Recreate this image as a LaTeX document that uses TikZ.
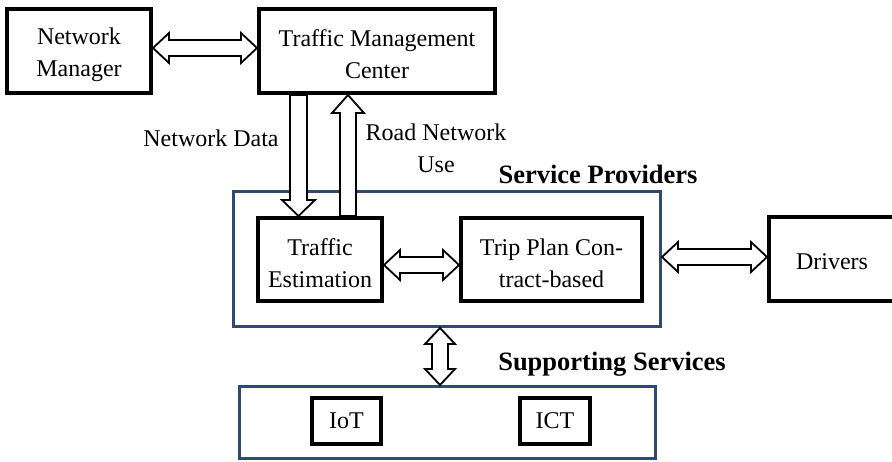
\documentclass[tikz,border=0pt]{standalone}
\usepackage{fontspec}
\setmainfont{Liberation Serif}
\usetikzlibrary{calc}
\definecolor{frameblue}{HTML}{2E4A6E}
\def\ahl{16pt}
\def\ahw{15pt}
\def\asw{8pt}
\newcommand{\HArrow}[2]{\draw[blockarrow] let \p1=(#1), \p2=(#2) in
  (\x1,\y1) -- (\x1+\ahl,\y1+\ahw) -- (\x1+\ahl,\y1+\asw) -- (\x2-\ahl,\y1+\asw) -- (\x2-\ahl,\y1+\ahw) -- (\x2,\y1)
  -- (\x2-\ahl,\y1-\ahw) -- (\x2-\ahl,\y1-\asw) -- (\x1+\ahl,\y1-\asw) -- (\x1+\ahl,\y1-\ahw) -- cycle;}
\newcommand{\VArrow}[2]{\draw[blockarrow] let \p1=(#1), \p2=(#2) in
  (\x1,\y1) -- (\x1+\ahw,\y1-\ahl) -- (\x1+\asw,\y1-\ahl) -- (\x1+\asw,\y2+\ahl) -- (\x1+\ahw,\y2+\ahl) -- (\x1,\y2)
  -- (\x1-\ahw,\y2+\ahl) -- (\x1-\asw,\y2+\ahl) -- (\x1-\asw,\y1-\ahl) -- (\x1-\ahw,\y1-\ahl) -- cycle;}
% single arrow, pointing down (start above, tip below)
\newcommand{\DownArrow}[2]{\draw[blockarrow] let \p1=(#1), \p2=(#2) in
  (\x1-8.5pt,\y1) -- (\x1-8.5pt,\y2+16pt) -- (\x1-16.5pt,\y2+16pt) -- (\x1,\y2) -- (\x1+16.5pt,\y2+16pt) -- (\x1+8.5pt,\y2+16pt) -- (\x1+8.5pt,\y1) -- cycle;}
% single arrow, pointing up
\newcommand{\UpArrow}[2]{\draw[blockarrow] let \p1=(#1), \p2=(#2) in
  (\x1-8pt,\y1) -- (\x1-8pt,\y2-18pt) -- (\x1-16pt,\y2-18pt) -- (\x1,\y2) -- (\x1+16pt,\y2-18pt) -- (\x1+8pt,\y2-18pt) -- (\x1+8pt,\y1) -- cycle;}
\tikzset{
  bbox/.style={draw=black, line width=4pt, fill=white, align=center, inner sep=0pt,
    font=\fontsize{24}{32}\selectfont},
  bluebox/.style={draw=frameblue, line width=3pt, inner sep=0pt},
  blockarrow/.style={draw=black, line width=1.8pt, fill=white, line join=miter},
  lbl/.style={align=center, inner sep=0pt, font=\fontsize{24}{32}\selectfont},
  blbl/.style={inner sep=0pt, font=\fontsize{26.5}{32}\selectfont\bfseries},
}
\begin{document}
\begin{tikzpicture}[x=1pt,y=-1pt]
\useasboundingbox (0,0) rectangle (892,462);
% containers
\node[bluebox, minimum width=427, minimum height=135] (sp) at (447,259) {};
\node[bluebox, minimum width=416, minimum height=72] (ss) at (447.5,422.5) {};
% boxes
\node[bbox, minimum width=144, minimum height=84] (nm) at (79,51) {};
\node[lbl] (nmt) at (79,54.5) {Network\\Manager};
\node[bbox, minimum width=236, minimum height=84] (tmc) at (377,51) {};
\node[lbl] (tmct) at (377,54.5) {Traffic Management\\Center};
\node[bbox, minimum width=124, minimum height=83] (te) at (320,259.5) {};
\node[lbl] (tet) at (320,263) {Traffic\\Estimation};
\node[bbox, minimum width=181, minimum height=83] (tp) at (551.5,259.5) {};
\node[lbl] (tpt) at (551.5,263) {Trip Plan Con-\\tract-based};
\node[bbox, minimum width=130, minimum height=84] (drv) at (834,259) {};
\node[lbl] (drvt) at (832,262) {Drivers};
\node[bbox, minimum width=69, minimum height=46] (iot) at (346.5,421) {IoT};
\node[bbox, minimum width=70, minimum height=46] (ict) at (555,421) {ICT};
% labels
\node[lbl] (ndl) at (211,138) {Network Data};
\node[lbl] (rnl) at (436,148) {Road Network\\Use};
\node[blbl] (spl) at (598,174) {Service Providers};
\node[blbl] (ssl) at (612,364) {Supporting Services};
% connector coordinates
\coordinate (xnd) at (298.5,0);
\coordinate (xru) at (348,0);
\coordinate (xss) at (440,0);
% arrows
\HArrow{$(nm.east)+(0,-3)$}{$(tmc.west)+(0,-3)$}
\HArrow{$(te.east)+(0,5.5)$}{$(tp.west)+(0,5.5)$}
\HArrow{$(sp.east)+(0,-2)$}{$(drv.west)+(0,-2)$}
\VArrow{sp.south -| xss}{ss.north -| xss}
\DownArrow{tmc.south -| xnd}{te.north -| xnd}
\UpArrow{te.north -| xru}{tmc.south -| xru}
\end{tikzpicture}
\end{document}
